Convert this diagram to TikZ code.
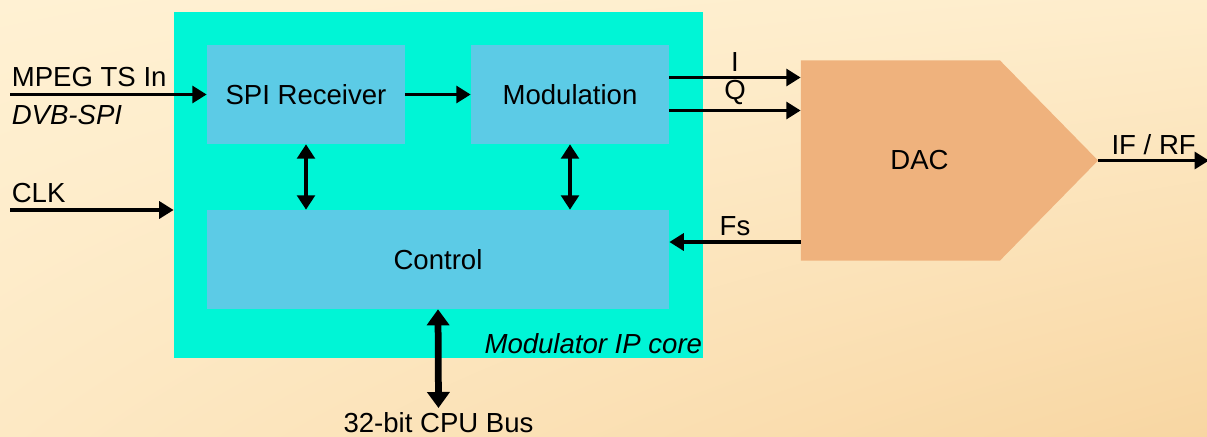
\documentclass[tikz,border=0pt]{standalone}
\usepackage{xcolor}
\usepackage{fontspec}
\setmainfont{Liberation Sans}
\usepackage{tikz}
\usetikzlibrary{arrows.meta,positioning,calc,shadings}
\definecolor{bgtop}{HTML}{FFF1D3}
\definecolor{bgbot}{HTML}{F8D6A2}
\definecolor{corefill}{HTML}{00F5D6}
\definecolor{blockfill}{HTML}{5CCBE6}
\definecolor{dacfill}{HTML}{EFB27D}
\definecolor{ink}{HTML}{000000}

\begin{document}
\begin{tikzpicture}[
  x=0.025cm, y=-0.025cm,
  every node/.style={font=\fontsize{19.6}{23.5}\selectfont, text=ink},
  core/.style={rectangle, fill=corefill, minimum width=13.225cm, minimum height=8.65cm, inner sep=0pt},
  block/.style={rectangle, fill=blockfill, minimum width=4.95cm, minimum height=2.475cm, inner sep=0pt},
  dacbody/.style={rectangle, minimum width=7.425cm, minimum height=5cm, inner sep=0pt,
    path picture={\fill[dacfill] (path picture bounding box.north west) -- ([xshift=-2.45cm]path picture bounding box.north east)
      -- (path picture bounding box.east) -- ([xshift=-2.45cm]path picture bounding box.south east)
      -- (path picture bounding box.south west) -- cycle;}},
  arrow/.style={-{Triangle[length=0.36cm, width=0.42cm]}, line width=2.6pt, draw=ink},
  biarrow/.style={{Triangle[length=0.36cm, width=0.44cm]}-{Triangle[length=0.36cm, width=0.44cm]}, line width=2.6pt, draw=ink},
  busarrow/.style={{Triangle[length=0.4cm, width=0.55cm]}-{Triangle[length=0.4cm, width=0.55cm]}, line width=4.8pt, draw=ink}
]
% background
\useasboundingbox (0,0) rectangle (1207,436);
\shade[upper left=bgtop, upper right=bgtop!85!bgbot, lower left=bgtop!70!bgbot, lower right=bgbot] (0,0) rectangle (1207,436);

% blocks
\node[core] (core) at (438.5,185) {};
\node[block] (spi) at (306,94.5) {SPI Receiver};
\node[block] (mod) at (570,94.5) {Modulation};
\node[block, minimum width=11.55cm] (ctrl) at (438,259.5) {Control};
\node[dacbody, label={[xshift=-0.75cm]center:DAC}] (dac) at (949.5,160.5) {};
\node[anchor=base east, inner sep=0pt, font=\fontsize{19.6}{23.5}\selectfont\itshape] (corename) at ($(core.south east)+(-1,-5)$) {Modulator IP core};

% free ends
\coordinate (mpegin) at (10,94.5);
\coordinate (clkin) at (10,210);
\coordinate (rfout) at (1209,160.5);
\coordinate (cpubus) at (438.5,408);
\coordinate (iout) at ($(mod.east)+(0,-17)$);
\coordinate (qout) at ($(mod.east)+(0,16)$);
\coordinate (fsin) at ($(ctrl.east)+(0,-17.5)$);

% inputs
\draw[arrow] (mpegin) -- (spi.west)
  node[pos=0, anchor=south west, inner xsep=0pt, inner ysep=4pt] (mpeglabel) {MPEG TS In}
  node[pos=0, anchor=north west, inner xsep=0pt, inner ysep=6pt, font=\fontsize{19.6}{23.5}\selectfont\itshape] (spilabel) {DVB-SPI};
\draw[arrow] (clkin) -- (clkin -| core.west)
  node[pos=0, anchor=south west, inner xsep=0pt, inner ysep=4pt] (clklabel) {CLK};

% data path
\draw[arrow] (spi) -- (mod);
\draw[biarrow] (spi.south) -- (spi.south |- ctrl.north);
\draw[biarrow] (mod.south) -- (mod.south |- ctrl.north);
\draw[arrow] (iout) -- (iout -| dac.west) node[midway, above, inner sep=3pt] (ilabel) {I};
\draw[arrow] (qout) -- (qout -| dac.west) node[midway, above, inner sep=3pt] (qlabel) {Q};
\draw[arrow] (fsin -| dac.west) -- (fsin) node[midway, above, inner sep=3pt] (fslabel) {Fs};
\draw[arrow] (dac.east) -- (rfout) node[midway, above, inner sep=3pt] (rflabel) {IF / RF};

% cpu bus
\draw[busarrow] (ctrl.south) -- (cpubus) node[below, inner sep=1pt] (buslabel) {32-bit CPU Bus};
\end{tikzpicture}
\end{document}
